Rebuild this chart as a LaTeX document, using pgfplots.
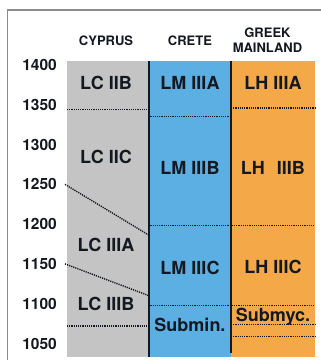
\documentclass[border=0pt]{standalone}
\usepackage{fontspec}
\setmainfont{TeX Gyre Heros}
\usepackage{pgfplots}
\pgfplotsset{compat=1.18}
\definecolor{cgrey}{HTML}{C4C4C4}
\definecolor{cblue}{HTML}{5BAFE3}
\definecolor{corange}{HTML}{F4A848}
\definecolor{ink}{HTML}{141820}
\definecolor{framec}{HTML}{8C8C8C}
\tikzset{
  lab/.style={font=\fontsize{18}{18}\selectfont\bfseries, text=ink, inner sep=0pt, anchor=center},
  hd/.style={font=\fontsize{13}{15}\selectfont\bfseries, text=ink, inner sep=0pt, align=center},
  dots/.style={ink, line width=1.4pt, dash pattern=on 1.2pt off 1.0pt},
}
\begin{document}
\begin{tikzpicture}
\useasboundingbox (-67pt,-3pt) rectangle (254pt,357pt);
\fill[white] (-67pt,-3pt) rectangle (254pt,357pt);
\draw[framec, line width=1.5pt] (-59.5pt,-20pt) -- (-59.5pt,347pt) -- (280pt,347pt);
\begin{axis}[
  at={(0,0)}, anchor=south west,
  scale only axis, width=248pt, height=296pt,
  xmin=0, xmax=248, ymin=1033, ymax=1405,
  axis line style={draw=none},
  xtick=\empty,
  ytick={1050,1100,1150,1200,1250,1300,1350,1400},
  scaled y ticks=false,
  major tick length=0pt,
  /pgf/number format/assume math mode=true,
  /pgf/number format/1000 sep={},
  yticklabel style={font=\fontsize{15.5}{15.5}\selectfont\bfseries, text=ink, inner sep=0pt, xshift=-10pt},
  clip=false,
]
% columns
\addplot[fill=cgrey, draw=none] coordinates {(0,1033) (82.5,1033) (82.5,1405) (0,1405)} -- cycle;
\addplot[fill=cblue, draw=none] coordinates {(82.5,1033) (164,1033) (164,1405) (82.5,1405)} -- cycle;
\addplot[fill=corange, draw=none] coordinates {(164,1033) (248,1033) (248,1405) (164,1405)} -- cycle;
% Cyprus boundaries
\addplot[dots] coordinates {(0,1344) (82,1344)};
\addplot[dots] coordinates {(-2,1250) (82,1186)};
\addplot[dots] coordinates {(-2,1150) (82,1110)};
\addplot[dots] coordinates {(0,1072) (82,1072)};
% Crete boundaries
\addplot[dots] coordinates {(83.5,1335) (164,1335)};
\addplot[dots] coordinates {(83.5,1198) (248,1198)};
\addplot[dots] coordinates {(83.5,1098) (248,1098)};
% Mainland boundaries
\addplot[dots] coordinates {(164,1346) (248,1346)};
\addplot[dots] coordinates {(164,1074) (248,1074)};
\addplot[dots] coordinates {(164,1059) (248,1059)};
% separators
\addplot[ink, line width=2pt] coordinates {(82.5,1033) (82.5,1405)};
\addplot[ink, line width=2pt] coordinates {(164,1038) (164,1405)};
% labels
\node[lab] at (axis cs:39,1377) {LC IIB};
\node[lab] at (axis cs:39,1285) {LC IIC};
\node[lab] at (axis cs:39,1173.5) {LC IIIA};
\node[lab] at (axis cs:39,1100) {LC IIIB};
\node[lab] at (axis cs:123,1377) {LM IIIA};
\node[lab] at (axis cs:123,1270) {LM IIIB};
\node[lab] at (axis cs:123,1145.5) {LM IIIC};
\node[lab] at (axis cs:123,1073) {Submin.};
\node[lab] at (axis cs:206,1377) {LH IIIA};
\node[lab] at (axis cs:206,1270) {LH\hspace{12pt}IIIB};
\node[lab] at (axis cs:206,1146) {LH IIIC};
\node[lab] at (axis cs:206,1084) {Submyc.};
% headers
\node[hd] at (axis cs:39,1431) {CYPRUS};
\node[hd] at (axis cs:123,1431) {CRETE};
\node[hd] at (axis cs:200.5,1431.6) {GREEK\\MAINLAND};
\end{axis}
\end{tikzpicture}
\end{document}
